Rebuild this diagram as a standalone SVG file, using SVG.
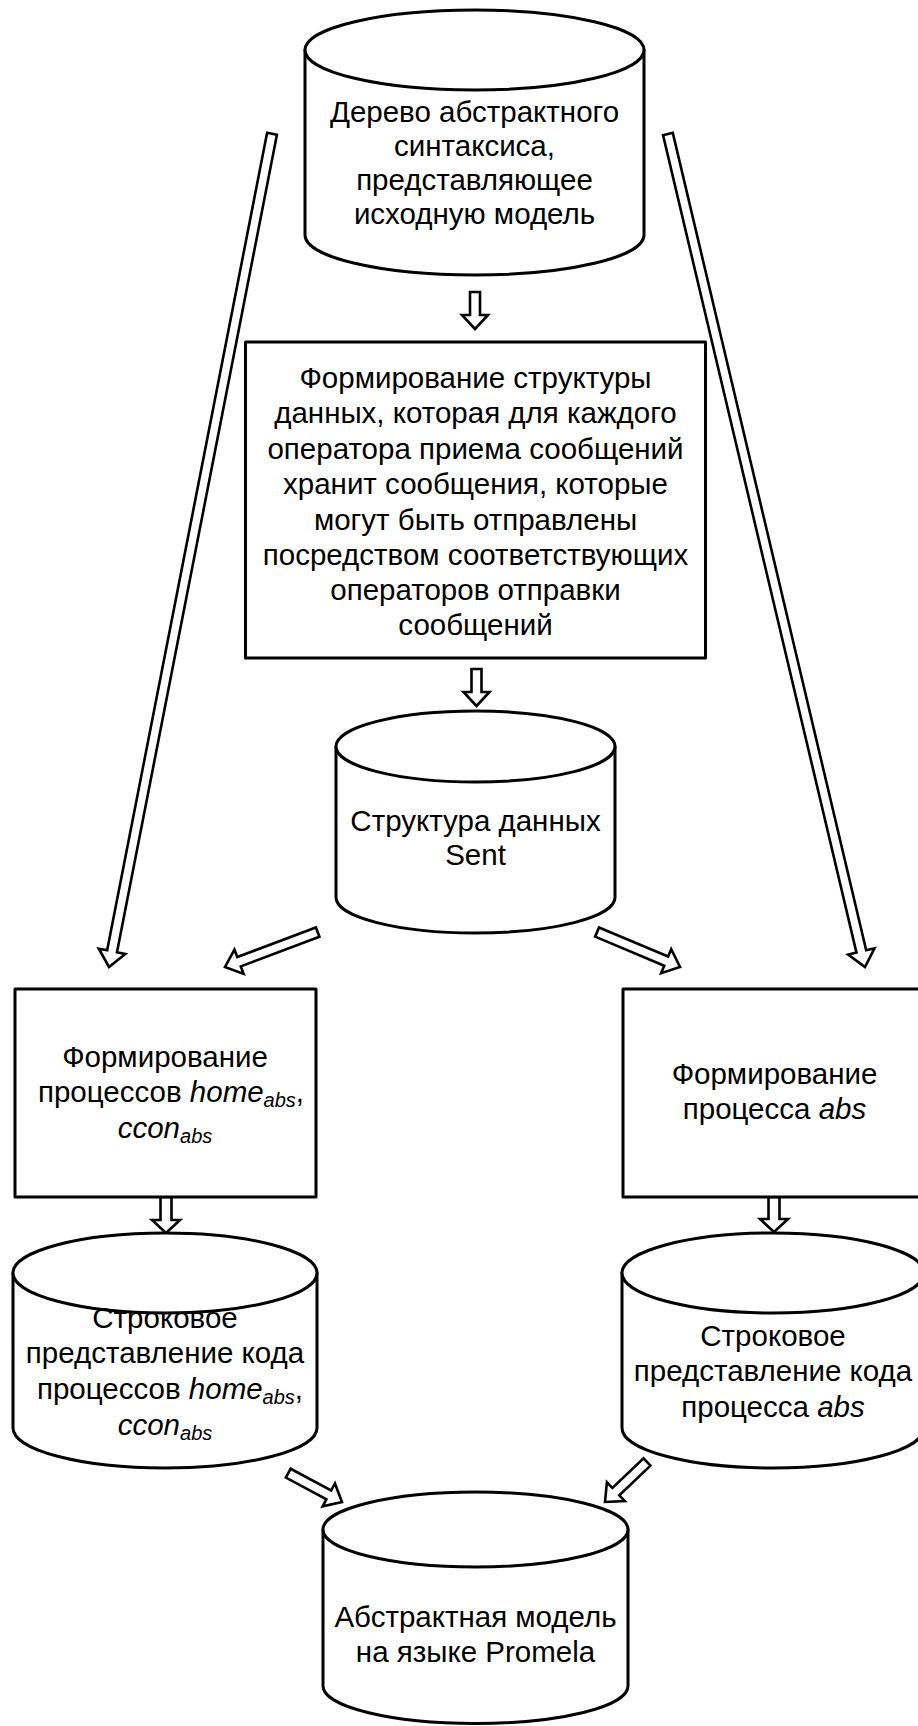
<svg xmlns="http://www.w3.org/2000/svg" width="918" height="1726" viewBox="0 0 918 1726">
  <style>
    .shape { fill: #ffffff; stroke: #000000; stroke-width: 3; stroke-linejoin: round; }
    .arrow { fill: #ffffff; stroke: #000000; stroke-width: 2.6; stroke-linejoin: miter; }
    .label { font-family: "Liberation Sans", Arial, sans-serif; font-size: 29.5px; fill: #000000; text-anchor: middle; }
    .it { font-style: italic; }
    .sub { font-style: italic; font-size: 20px; }
  </style>

  <!-- connectors: hollow block arrows, drawn with the tip at the local origin pointing along +x -->
  <g id="connectors">
    <polygon class="arrow" transform="translate(109,967) rotate(101.07)" points="-849,-5 -16,-5 -16,-13.5 0,0 -16,13.5 -16,5 -849,5"/>
    <polygon class="arrow" transform="translate(865,967) rotate(76.69)" points="-856,-5 -16,-5 -16,-13.5 0,0 -16,13.5 -16,5 -856,5"/>
    <polygon class="arrow" transform="translate(475,329) rotate(90)" points="-37,-5 -14,-5 -14,-13 0,0 -14,13 -14,5 -37,5"/>
    <polygon class="arrow" transform="translate(476.5,706) rotate(90)" points="-37,-5 -14,-5 -14,-13 0,0 -14,13 -14,5 -37,5"/>
    <polygon class="arrow" transform="translate(225,967) rotate(159.38)" points="-99,-5 -15,-5 -15,-13 0,0 -15,13 -15,5 -99,5"/>
    <polygon class="arrow" transform="translate(680,967) rotate(22.86)" points="-90,-5 -15,-5 -15,-13 0,0 -15,13 -15,5 -90,5"/>
    <polygon class="arrow" transform="translate(166,1233) rotate(90)" points="-36,-5.5 -13,-5.5 -13,-14 0,0 -13,14 -13,5.5 -36,5.5"/>
    <polygon class="arrow" transform="translate(774,1232) rotate(90)" points="-35,-5.5 -13,-5.5 -13,-14 0,0 -13,14 -13,5.5 -35,5.5"/>
    <polygon class="arrow" transform="translate(342,1502) rotate(28.2)" points="-61,-5 -15,-5 -15,-13 0,0 -15,13 -15,5 -61,5"/>
    <polygon class="arrow" transform="translate(605,1502) rotate(136.4)" points="-58,-5 -15,-5 -15,-13 0,0 -15,13 -15,5 -58,5"/>
  </g>

  <!-- source syntax tree store -->
  <g id="ast">
    <path class="shape" d="M305,50 L305,235 A169.5,40 0 0 0 644,235 L644,50 Z"/>
    <ellipse class="shape" cx="474.5" cy="50" rx="169.5" ry="40"/>
    <text class="label" x="474.5" y="122">Дерево абстрактного</text>
    <text class="label" x="474.5" y="156">синтаксиса,</text>
    <text class="label" x="474.5" y="190">представляющее</text>
    <text class="label" x="474.5" y="224">исходную модель</text>
  </g>

  <!-- building the Sent structure -->
  <g id="build-sent">
    <rect class="shape" x="245.5" y="342" width="460" height="316" stroke-linejoin="miter"/>
    <text class="label" x="475.5" y="388">Формирование структуры</text>
    <text class="label" x="475.5" y="423">данных, которая для каждого</text>
    <text class="label" x="475.5" y="459">оператора приема сообщений</text>
    <text class="label" x="475.5" y="494">хранит сообщения, которые</text>
    <text class="label" x="475.5" y="530">могут быть отправлены</text>
    <text class="label" x="475.5" y="565">посредством соответствующих</text>
    <text class="label" x="475.5" y="600">операторов отправки</text>
    <text class="label" x="475.5" y="635">сообщений</text>
  </g>

  <!-- Sent data structure -->
  <g id="sent">
    <path class="shape" d="M336,746.5 L336,897.5 A139.5,35.5 0 0 0 615,897.5 L615,746.5 Z"/>
    <ellipse class="shape" cx="475.5" cy="746.5" rx="139.5" ry="35.5"/>
    <text class="label" x="475.5" y="831">Структура данных</text>
    <text class="label" x="475.5" y="865">Sent</text>
  </g>

  <!-- home/ccon process generation -->
  <g id="build-home-ccon">
    <rect class="shape" x="15" y="989" width="301" height="208" stroke-linejoin="miter"/>
    <text class="label" x="165" y="1067">Формирование</text>
    <text class="label" x="171" y="1102">процессов <tspan class="it">home</tspan><tspan class="sub" dy="5">abs</tspan><tspan dy="-5">,</tspan></text>
    <text class="label" x="165" y="1138"><tspan class="it">ccon</tspan><tspan class="sub" dy="5">abs</tspan></text>
  </g>

  <!-- abs process generation -->
  <g id="build-abs">
    <rect class="shape" x="623" y="989" width="303" height="208" stroke-linejoin="miter"/>
    <text class="label" x="774.5" y="1084">Формирование</text>
    <text class="label" x="774.5" y="1119">процесса <tspan class="it">abs</tspan></text>
  </g>

  <!-- generated home/ccon code -->
  <g id="code-home-ccon">
    <path class="shape" d="M13,1273 L13,1428 A152,40 0 0 0 317,1428 L317,1273 Z"/>
    <ellipse class="shape" cx="165" cy="1273" rx="152" ry="40"/>
    <text class="label" x="165" y="1328">Строковое</text>
    <text class="label" x="165" y="1363">представление кода</text>
    <text class="label" x="170" y="1399">процессов <tspan class="it">home</tspan><tspan class="sub" dy="5">abs</tspan><tspan dy="-5">,</tspan></text>
    <text class="label" x="165" y="1435"><tspan class="it">ccon</tspan><tspan class="sub" dy="5">abs</tspan></text>
  </g>

  <!-- generated abs code -->
  <g id="code-abs">
    <path class="shape" d="M622,1273 L622,1428 A151,40 0 0 0 924,1428 L924,1273 Z"/>
    <ellipse class="shape" cx="773" cy="1273" rx="151" ry="40"/>
    <text class="label" x="773" y="1346">Строковое</text>
    <text class="label" x="773" y="1381">представление кода</text>
    <text class="label" x="773" y="1417">процесса <tspan class="it">abs</tspan></text>
  </g>

  <!-- resulting Promela model -->
  <g id="promela">
    <path class="shape" d="M323,1529.5 L323,1686 A152.5,37.5 0 0 0 628,1686 L628,1529.5 Z"/>
    <ellipse class="shape" cx="475.5" cy="1529.5" rx="152.5" ry="37.5"/>
    <text class="label" x="475.5" y="1627">Абстрактная модель</text>
    <text class="label" x="475.5" y="1662">на языке Promela</text>
  </g>
</svg>
